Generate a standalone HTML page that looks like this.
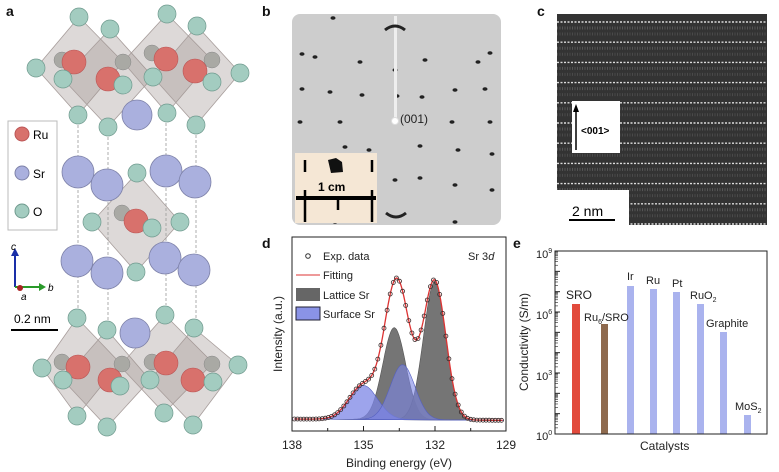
<!DOCTYPE html>
<html><head><meta charset="utf-8"><style>
html,body{margin:0;padding:0;background:#fff;}
svg{display:block;font-family:"Liberation Sans",sans-serif;}
</style></head><body>
<svg id="s" width="779" height="472" viewBox="0 0 779 472" xmlns="http://www.w3.org/2000/svg">
<defs><clipPath id="cc"><rect x="557" y="14" width="210" height="211"/></clipPath></defs>
<rect width="779" height="472" fill="#fff"/>
<g font-weight="bold" font-size="14" fill="#111">
<text x="6" y="16">a</text><text x="262" y="16">b</text><text x="537" y="16">c</text>
<text x="262" y="248">d</text><text x="513" y="248">e</text>
</g>

<g id="pa">
<g fill="#9e9290" fill-opacity="0.35" stroke="#a89e9c" stroke-width="0.8">
<polygon points="79,17 123,62 78,115 36,68"/>
<polygon points="110,29 153,77 108,127 63,79"/>
<polygon points="167,14 212,60 167,113 123,62"/>
<polygon points="197,26 240,73 196,125 153,77"/>
<polygon points="137,173 180,222 136,272 92,222"/>
<polygon points="77,318 120,363 77,416 42,368"/>
<polygon points="107,330 150,380 107,427 63,380"/>
<polygon points="165,315 213,363 164,413 120,366"/>
<polygon points="194,328 238,365 193,425 150,380"/>
</g>
<g stroke="#999" stroke-dasharray="3,2" stroke-width="0.8">
<line x1="78" y1="125" x2="78" y2="310"/><line x1="108" y1="137" x2="108" y2="320"/>
<line x1="166" y1="123" x2="166" y2="305"/><line x1="196" y1="135" x2="196" y2="318"/>
</g>
<g fill="#a9a9a4" stroke="#888" stroke-width="0.5">
<circle cx="62" cy="60" r="8"/><circle cx="123" cy="62" r="8"/><circle cx="152" cy="53" r="8"/><circle cx="212" cy="60" r="8"/>
<circle cx="122" cy="213" r="8"/><circle cx="62" cy="362" r="8"/><circle cx="122" cy="364" r="8"/><circle cx="152" cy="362" r="8"/><circle cx="212" cy="364" r="8"/>
</g>
<g fill="#d8716c" stroke="#b55" stroke-width="0.6">
<circle cx="74" cy="62" r="12"/><circle cx="108" cy="79" r="12"/><circle cx="166" cy="59" r="12"/><circle cx="195" cy="71" r="12"/>
<circle cx="136" cy="221" r="12"/>
<circle cx="78" cy="367" r="12"/><circle cx="110" cy="380" r="12"/><circle cx="166" cy="363" r="12"/><circle cx="193" cy="380" r="12"/>
</g>
<g fill="#aab0de" stroke="#7d81a8" stroke-width="0.8">
<circle cx="137" cy="115" r="15"/><circle cx="78" cy="172" r="16"/><circle cx="107" cy="185" r="16"/><circle cx="166" cy="171" r="16"/><circle cx="195" cy="182" r="16"/>
<circle cx="77" cy="261" r="16"/><circle cx="107" cy="273" r="16"/><circle cx="165" cy="258" r="16"/><circle cx="194" cy="270" r="16"/><circle cx="135" cy="333" r="15"/>
</g>
<g fill="#a3ccc0" stroke="#6f9a8e" stroke-width="0.7">
<circle cx="79" cy="17" r="9"/><circle cx="110" cy="29" r="9"/><circle cx="167" cy="14" r="9"/><circle cx="197" cy="26" r="9"/>
<circle cx="36" cy="68" r="9"/><circle cx="63" cy="79" r="9"/><circle cx="123" cy="85" r="9"/><circle cx="153" cy="77" r="9"/><circle cx="212" cy="82" r="9"/><circle cx="240" cy="73" r="9"/>
<circle cx="78" cy="115" r="9"/><circle cx="108" cy="127" r="9"/><circle cx="167" cy="113" r="9"/><circle cx="196" cy="125" r="9"/>
<circle cx="137" cy="173" r="9"/><circle cx="92" cy="222" r="9"/><circle cx="180" cy="222" r="9"/><circle cx="152" cy="228" r="9"/><circle cx="136" cy="272" r="9"/>
<circle cx="77" cy="318" r="9"/><circle cx="107" cy="330" r="9"/><circle cx="165" cy="315" r="9"/><circle cx="194" cy="328" r="9"/>
<circle cx="42" cy="368" r="9"/><circle cx="63" cy="380" r="9"/><circle cx="120" cy="386" r="9"/><circle cx="150" cy="380" r="9"/><circle cx="213" cy="382" r="9"/><circle cx="238" cy="365" r="9"/>
<circle cx="77" cy="416" r="9"/><circle cx="107" cy="427" r="9"/><circle cx="164" cy="413" r="9"/><circle cx="193" cy="425" r="9"/>
</g>
<rect x="8" y="121" width="49" height="109" fill="#fff" stroke="#bbb"/>
<circle cx="22" cy="134" r="7" fill="#d8716c" stroke="#b55"/><text x="33" y="139" font-size="12">Ru</text>
<circle cx="22" cy="173" r="7" fill="#aab0de" stroke="#7d81a8"/><text x="33" y="178" font-size="12">Sr</text>
<circle cx="22" cy="211" r="7" fill="#a3ccc0" stroke="#6f9a8e"/><text x="33" y="216" font-size="12">O</text>
<line x1="15" y1="287" x2="15" y2="254" stroke="#1a2fa8" stroke-width="2"/><polygon points="11,256 19,256 15,248" fill="#1a2fa8"/>
<line x1="15" y1="287" x2="40" y2="287" stroke="#2a9a2a" stroke-width="2"/><polygon points="39,283 39,291 46,287" fill="#2a9a2a"/>
<circle cx="20" cy="288" r="3" fill="#a22"/>
<text x="11" y="250" font-size="10" font-style="italic">c</text><text x="48" y="291" font-size="10" font-style="italic">b</text><text x="21" y="300" font-size="10" font-style="italic">a</text>
<text x="14" y="323" font-size="12">0.2 nm</text>
<line x1="11" y1="330" x2="58" y2="330" stroke="#000" stroke-width="2"/>
</g>

<rect x="292" y="14" width="209" height="211" rx="8" fill="#cdcdcd"/>
<g id="spots" fill="#222"></g>
<rect x="394" y="16" width="3" height="105" fill="#eee"/>
<circle cx="395" cy="121" r="3.5" fill="#fff" stroke="#ddd"/>
<text x="400" y="123" font-size="12" fill="#222">(001)</text>
<path d="M385,30 q10,-8 20,0" stroke="#222" stroke-width="3" fill="none"/>
<path d="M386,213 q10,8 20,0" stroke="#222" stroke-width="3" fill="none"/>
<rect x="295" y="153" width="82" height="70" fill="#f5e7d5"/>
<path d="M328,160 l8,-2 6,4 1,10 -12,1z" fill="#111"/>
<text x="318" y="191" font-size="12" font-weight="bold">1 cm</text>
<rect x="296" y="196" width="80" height="4" fill="#000"/>
<g stroke="#000" stroke-width="2.5"><line x1="305" y1="160" x2="305" y2="172"/><line x1="372" y1="160" x2="372" y2="172"/>
<line x1="305" y1="190" x2="305" y2="222"/><line x1="338" y1="198" x2="338" y2="210"/><line x1="372" y1="190" x2="372" y2="222"/></g>

<rect x="557" y="14" width="210" height="211" fill="#333"/>
<g id="stripes" clip-path="url(#cc)"></g>
<rect x="572" y="101" width="48" height="52" fill="#fff"/>
<line x1="576" y1="150" x2="576" y2="110" stroke="#000" stroke-width="1.5"/><polygon points="573,112 579,112 576,104" fill="#000"/>
<text x="581" y="134" font-size="10" font-weight="bold">&lt;001&gt;</text>
<rect x="557" y="190" width="72" height="35" fill="#fff"/>
<text x="572" y="216" font-size="14">2 nm</text>
<line x1="569" y1="220" x2="615" y2="220" stroke="#000" stroke-width="2"/>

<g id="pd"></g>
<rect x="292" y="237" width="214" height="194" fill="none" stroke="#222" stroke-width="1"/>
<g font-size="12" fill="#222" text-anchor="middle">
<text x="292" y="449">138</text><text x="363.5" y="449">135</text><text x="435" y="449">132</text><text x="506" y="449">129</text>
<text x="399" y="467">Binding energy (eV)</text>
<text transform="translate(282,334) rotate(-90)">Intensity (a.u.)</text>
</g>
<g stroke="#222"><line x1="363.5" y1="431" x2="363.5" y2="426"/><line x1="435" y1="431" x2="435" y2="426"/><line x1="327.7" y1="431" x2="327.7" y2="428"/><line x1="399.3" y1="431" x2="399.3" y2="428"/><line x1="470.7" y1="431" x2="470.7" y2="428"/></g>
<g font-size="11" fill="#222">
<circle cx="308" cy="256" r="2.3" fill="none" stroke="#333"/><text x="323" y="260">Exp. data</text>
<line x1="296" y1="275" x2="320" y2="275" stroke="#d33"/><text x="323" y="279">Fitting</text>
<rect x="296" y="288" width="24" height="13" fill="#666"/><text x="323" y="299">Lattice Sr</text>
<rect x="296" y="307" width="24" height="13" fill="#8a93e6" stroke="#223"/><text x="323" y="318">Surface Sr</text>
<text x="468" y="260">Sr 3<tspan font-style="italic">d</tspan></text>
</g>

<rect x="572" y="304" width="8" height="130" fill="#e24a3c"/>
<rect x="601" y="324" width="7" height="110" fill="#8e6a4e"/>
<g fill="#aab3ee">
<rect x="627" y="286" width="7" height="148"/><rect x="650" y="289" width="7" height="145"/><rect x="673" y="292" width="7" height="142"/>
<rect x="697" y="304" width="7" height="130"/><rect x="720" y="332" width="7" height="102"/><rect x="744" y="415" width="7" height="19"/>
</g>
<rect x="555" y="251" width="212" height="183" fill="none" stroke="#222"/>
<g id="eticks" stroke="#222"></g>
<g font-size="11" fill="#222">
<text x="536" y="258">10<tspan font-size="7" dy="-5">9</tspan></text>
<text x="536" y="319">10<tspan font-size="7" dy="-5">6</tspan></text>
<text x="536" y="380">10<tspan font-size="7" dy="-5">3</tspan></text>
<text x="536" y="440">10<tspan font-size="7" dy="-5">0</tspan></text>
<text x="566" y="299" font-size="12">SRO</text>
<text x="584" y="321">Ru<tspan font-size="7" dy="3">6</tspan><tspan dy="-3">/SRO</tspan></text>
<text x="627" y="280">Ir</text><text x="646" y="284">Ru</text><text x="672" y="287">Pt</text>
<text x="690" y="299">RuO<tspan font-size="7" dy="3">2</tspan></text>
<text x="706" y="327">Graphite</text>
<text x="735" y="410">MoS<tspan font-size="7" dy="3">2</tspan></text>
<text x="640" y="450" font-size="12">Catalysts</text>
<text transform="translate(528,342) rotate(-90)" text-anchor="middle" font-size="12">Conductivity (S/m)</text>
</g>
</svg>
<script>
var NS="http://www.w3.org/2000/svg";
function el(t,a,p){var e=document.createElementNS(NS,t);for(var k in a)e.setAttribute(k,a[k]);p.appendChild(e);return e;}
var sp=document.getElementById('spots');
var pts=[[333,18],[302,54],[315,57],[360,62],[425,60],[490,53],[302,89],[330,92],[362,95],[422,97],[455,90],[485,89],[300,122],[340,122],[452,122],[490,122],[369,150],[420,146],[458,150],[492,154],[395,70],[395,180],[420,178],[455,185],[492,190],[335,222],[455,222],[397,96],[478,62],[345,147]];
pts.forEach(function(p){el('ellipse',{cx:p[0],cy:p[1],rx:2.5,ry:1.8},sp);});
var st=document.getElementById('stripes');
for(var y=20;y<225;y+=20.2){el('line',{x1:557,y1:y+2,x2:767,y2:y+2,stroke:'#ddd','stroke-width':1.4,'stroke-dasharray':'2,1.5'},st);
 el('line',{x1:557,y1:y+8,x2:767,y2:y+8,stroke:'#555','stroke-width':3,'stroke-dasharray':'1,1.5'},st);
 el('line',{x1:557,y1:y+14,x2:767,y2:y+14,stroke:'#4a4a4a','stroke-width':3,'stroke-dasharray':'1,1.5'},st);}
var pd=document.getElementById('pd');
function X(E){return 292+(138-E)*23.78;}
function base(E){return 419+(138-E)*0.15;}
function g(E,c,h,s){return h*Math.exp(-(E-c)*(E-c)/(2*s*s));}
var comps=[[133.7,92,0.48,'#666',0.9],[132.0,138,0.47,'#666',0.9],[135.0,34,0.6,'#7c86e6',0.75],[133.35,55,0.52,'#7c86e6',0.6]];
function total(E){var t=0;comps.forEach(function(c){t+=g(E,c[0],c[1],c[2]);});return t;}
comps.forEach(function(c){var d='M'+X(137.9)+','+base(137.9);for(var E=137.9;E>=129.1;E-=0.05)d+=' L'+X(E).toFixed(1)+','+(base(E)-g(E,c[0],c[1],c[2])).toFixed(1);d+=' L'+X(129.1)+','+base(129.1)+'Z';
 el('path',{d:d,fill:c[3],'fill-opacity':c[4],stroke:c[3]=='#666'?'#555':'#5560c0','stroke-width':0.6},pd);});
var d='';for(var E=137.9;E>=129.1;E-=0.05)d+=(d?' L':'M')+X(E).toFixed(1)+','+(base(E)-total(E)).toFixed(1);
el('path',{d:d,fill:'none',stroke:'#d33','stroke-width':1.3},pd);
for(var E=137.9;E>=129.1;E-=0.13)el('circle',{cx:X(E).toFixed(1),cy:(base(E)-total(E)).toFixed(1),r:2,fill:'none',stroke:'#3a2a2a','stroke-width':0.8},pd);
var et=document.getElementById('eticks');
for(var k=0;k<9;k++){var y0=434-k*20.33;el('line',{x1:555,y1:y0,x2:560,y2:y0},et);
 for(var m=2;m<10;m++){var yy=y0-Math.log10(m)*20.33;el('line',{x1:555,y1:yy,x2:558,y2:yy,'stroke-width':0.6},et);}}
</script>
</body></html>
